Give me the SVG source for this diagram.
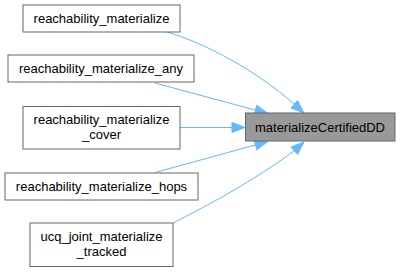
<svg xmlns="http://www.w3.org/2000/svg" width="404" height="272" viewBox="0 0 404 272">
<style>
.node rect{fill:#ffffff;stroke:#666666;stroke-width:1}
.node text{font-family:"Liberation Sans",Arial,sans-serif;font-size:13px;fill:#000000;text-anchor:middle}
#target rect{fill:#999999;stroke:#666666}
.edge path{fill:none;stroke:#63b8ff;stroke-width:1}
.edge polygon{fill:#63b8ff;stroke:#63b8ff;stroke-width:1}
</style>
<rect width="404" height="272" fill="#ffffff"/>
<g id="edges">
<g class="edge"><path d="M167,32 C205,43 257,71 294.3,104.3"/><polygon points="290.97,108 304,113 297.6,100.6"/></g>
<g class="edge"><path d="M155,83 L255.45,110.11"/><polygon points="254.15,114.94 268,113.5 256.75,105.28"/></g>
<g class="edge"><path d="M180,127.5 L232,127.5"/><polygon points="232,122.5 245,127.5 232,132.5"/></g>
<g class="edge"><path d="M155,172.5 L255.46,144.94"/><polygon points="256.78,149.76 268,141.5 254.14,140.12"/></g>
<g class="edge"><path d="M173,223 C205,207 255,180 294.3,150.7"/><polygon points="297.6,154.4 304,142 290.97,146.98"/></g>
</g>
<g id="target" class="node"><rect x="245.5" y="113" width="149.5" height="28"/><text x="320" y="131.5">materializeCertifiedDD</text></g>
<g id="n1" class="node"><rect x="23" y="5" width="157" height="27"/><text x="101.5" y="23">reachability_materialize</text></g>
<g id="n2" class="node"><rect x="8" y="55" width="186" height="27"/><text x="101" y="73">reachability_materialize_any</text></g>
<g id="n3" class="node"><rect x="23" y="106.5" width="157" height="42.5"/><text x="101.5" y="124">reachability_materialize</text><text x="101.5" y="139">_cover</text></g>
<g id="n4" class="node"><rect x="5" y="173" width="193" height="27"/><text x="101.5" y="191">reachability_materialize_hops</text></g>
<g id="n5" class="node"><rect x="30" y="223" width="143" height="43.5"/><text x="101.5" y="241">ucq_joint_materialize</text><text x="101.5" y="256">_tracked</text></g>
</svg>
